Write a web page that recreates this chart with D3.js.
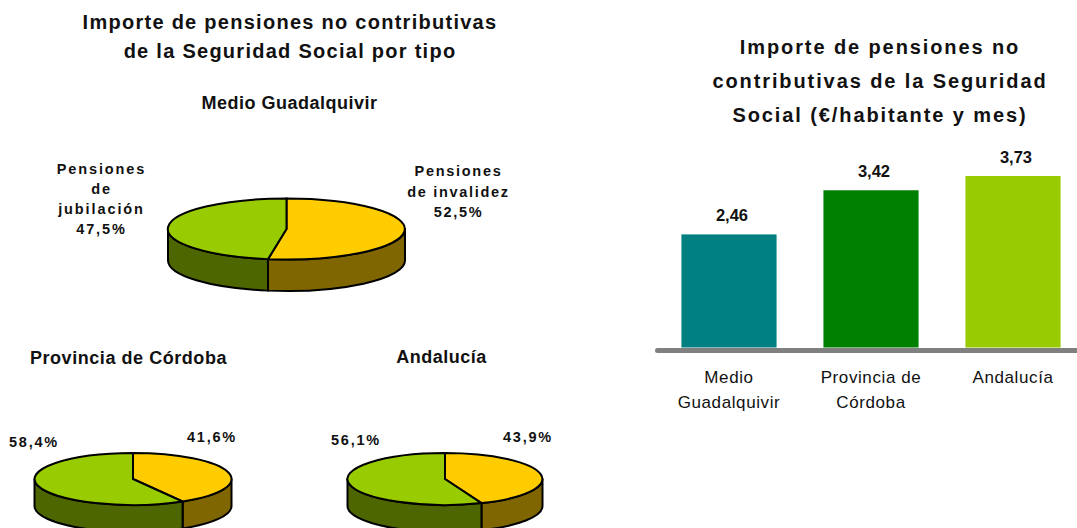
<!DOCTYPE html>
<html><head><meta charset="utf-8">
<script src="https://cdn.jsdelivr.net/npm/d3@7"></script>
<style>
html,body{margin:0;padding:0;background:#fff}
svg{display:block}
text{font-family:"Liberation Sans",Arial,sans-serif;fill:#111}
</style></head><body>
<svg id="c" width="1077" height="528"></svg>
<script>
const pieRegions = ["Medio Guadalquivir","Provincia de Córdoba","Andalucía"];
const invalidez = [52.5,41.6,43.9];
const jubilacion = [47.5,58.4,56.1];
const barCategories = [["Medio","Guadalquivir"],["Provincia de","Córdoba"],["Andalucía"]];
const barValues = [2.46,3.42,3.73];
const barColors = ["#008080","#008000","#99CC00"];
const leftTitle = ["Importe de pensiones no contributivas","de la Seguridad Social por tipo"];
const rightTitle = ["Importe de pensiones no","contributivas de la Seguridad","Social (€/habitante y mes)"];
const sliceColors = ["#FFCC00","#99CC00"];
const wallColors = ["#806600","#4D6600"];

const svg = d3.select("#c");
const fmt = v => d3.format(".1f")(v).replace(".",",")+"%";
const lines = (x,y,arr,lh,size,weight,ls,anchor="middle") => {
  const t = svg.append("text").attr("x",x).attr("y",y).attr("text-anchor",anchor)
    .attr("font-size",size).attr("font-weight",weight).attr("letter-spacing",ls);
  arr.forEach((s,i)=>t.append("tspan").attr("x",x).attr("y",y+i*lh).text(s));
};

lines(290,29,leftTitle,29,20,"bold",1.27);
lines(880,54,rightTitle,34,20,"bold",1.9);

const layouts = [
  {cx:286.5,cy:229,rx:118.5,ry:30.5,d:31.5},
  {cx:133,cy:479,rx:98.5,ry:26,d:27},
  {cx:445,cy:479,rx:97.5,ry:26,d:27}
];
const pie = d3.pie().sort(null).value(d=>d);
const arc = d3.arc().innerRadius(0).outerRadius(1);

function drawPie(i){
  const L = layouts[i];
  const arcs = pie([invalidez[i],jubilacion[i]]);
  const g = svg.append("g");
  const px = a => L.cx+L.rx*Math.sin(a), py = a => L.cy-L.ry*Math.cos(a);
  arcs.forEach((a,k)=>{
    const s = Math.max(a.startAngle,Math.PI/2), e = Math.min(a.endAngle,Math.PI*1.5);
    if(e<=s) return;
    g.append("path")
      .attr("d",`M${px(s)},${py(s)}A${L.rx},${L.ry} 0 0 1 ${px(e)},${py(e)}L${px(e)},${py(e)+L.d}A${L.rx},${L.ry} 0 0 0 ${px(s)},${py(s)+L.d}Z`)
      .attr("fill",wallColors[k]).attr("stroke","#000").attr("stroke-width",2).attr("stroke-linejoin","round");
  });
  g.selectAll("path.top").data(arcs).join("path").attr("class","top")
    .attr("transform",`translate(${L.cx},${L.cy}) scale(${L.rx},${L.ry})`)
    .attr("d",arc)
    .attr("fill",(d,k)=>sliceColors[k])
    .attr("stroke","#000").attr("stroke-width",2)
    .style("vector-effect","non-scaling-stroke");
}
[0,1,2].forEach(drawPie);

lines(289.5,109,[pieRegions[0]],0,18,"bold",0.5);
lines(128.5,364,[pieRegions[1]],0,18,"bold",0.55);
lines(441.5,363,[pieRegions[2]],0,18,"bold",0.5);

const ls=1.8, fs=14.5;
lines(101.5,174,["Pensiones","de","jubilación",fmt(jubilacion[0])],20,fs,"bold",1.9);
lines(458.5,176,["Pensiones","de invalidez",fmt(invalidez[0])],20.5,fs,"bold",1.7);
lines(34,447,[fmt(jubilacion[1])],0,fs,"bold",ls);
lines(212,442,[fmt(invalidez[1])],0,fs,"bold",ls);
lines(356,445,[fmt(jubilacion[2])],0,fs,"bold",ls);
lines(528,442,[fmt(invalidez[2])],0,fs,"bold",ls);

/* bars */
const x = d3.scaleBand().domain(d3.range(barValues.length)).range([657,1085]).paddingInner(0.33).paddingOuter(0.172);
const y = d3.scaleLinear().domain([0,3.73]).range([347.5,176]);

svg.selectAll("rect.bar").data(barValues).join("rect").attr("class","bar")
  .attr("x",(d,i)=>x(i)).attr("width",x.bandwidth())
  .attr("y",d=>y(d)).attr("height",d=>y(0)-y(d))
  .attr("fill",(d,i)=>barColors[i]);

const axis = svg.append("g").attr("transform",`translate(0,${y(0)+2.5})`)
  .call(d3.axisBottom(x).tickSize(0).tickFormat(""));
axis.select(".domain").attr("stroke","#808080").attr("stroke-width",5).attr("stroke-linecap","round");
axis.selectAll(".tick text").each(function(d){
  const t = d3.select(this).text(null).attr("y",0).attr("dy",null)
    .attr("font-size",17).attr("font-family","Liberation Sans").attr("fill","#111").attr("letter-spacing",0.6);
  barCategories[d].forEach((s,i)=>t.append("tspan").attr("x",0).attr("y",33+i*25).text(s));
});

svg.selectAll("text.val").data(barValues).join("text").attr("class","val")
  .attr("x",(d,i)=>x(i)+x.bandwidth()/2+3).attr("y",d=>y(d)-13.5)
  .attr("text-anchor","middle").attr("font-size",16.5).attr("font-weight","bold")
  .text(d=>d3.format(".2f")(d).replace(".",","));
</script>
</body></html>
